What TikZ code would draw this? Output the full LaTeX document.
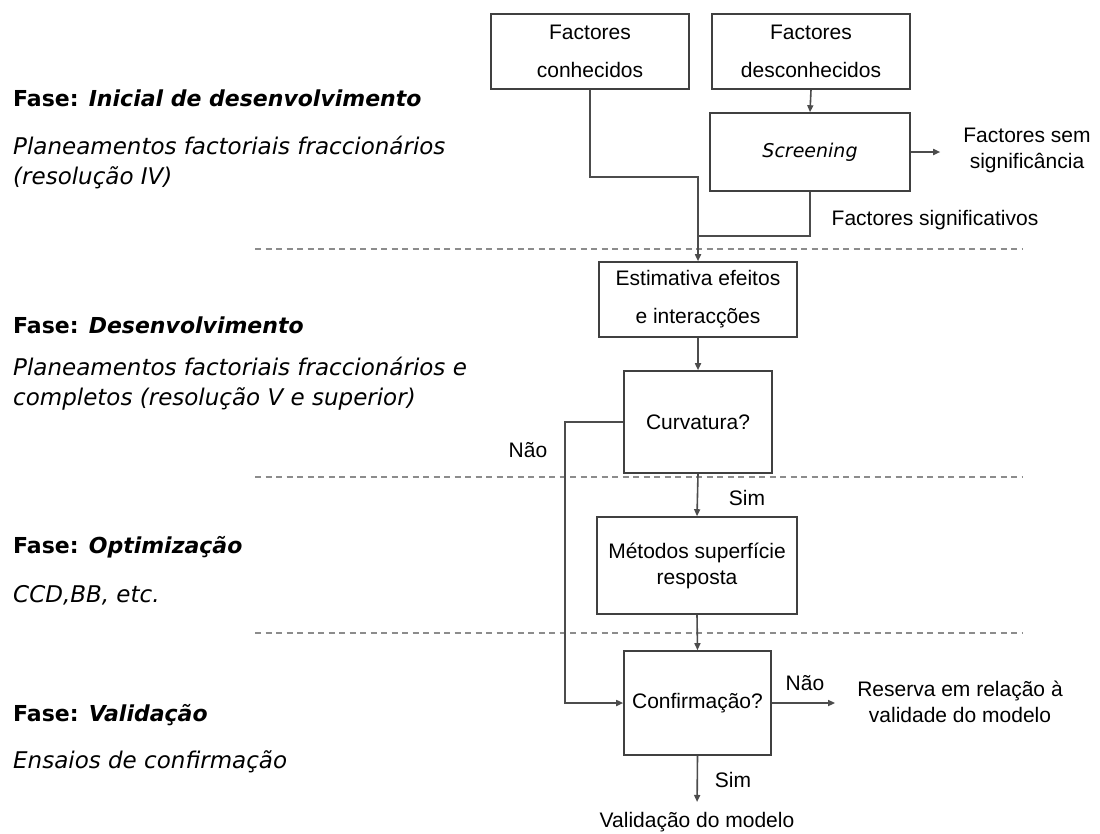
\documentclass[tikz,border=0pt]{standalone}
\usepackage{fontspec}
\setmainfont{Liberation Sans}
\newfontfamily\phasefont{DejaVu Sans}
\usetikzlibrary{arrows.meta}

\begin{document}
\begin{tikzpicture}[
  x=1pt, y=-1pt,
  font=\fontsize{21}{26}\selectfont,
  box/.style={draw=black!75, line width=1.6pt, align=center, inner sep=0pt},
  line/.style={draw=black!70, line width=1.6pt},
  arr/.style={line, -{Triangle[length=7pt, width=6pt]}},
  phase/.style={anchor=west, inner sep=0pt, font=\phasefont\fontsize{22}{26}\selectfont\bfseries},
  note/.style={anchor=west, inner sep=0pt, align=left,
    font=\phasefont\fontsize{23}{30}\selectfont\itshape},
  label/.style={inner sep=0pt, align=center},
  phaseline/.style={draw=black!45, line width=1.8pt, dash pattern=on 6pt off 4.5pt},
]
  \useasboundingbox[fill=white] (0,0) rectangle (1100,833);

  % Phase separators
  \foreach \y in {249,477,633}
    \draw[phaseline] (255,\y) -- (1023,\y);

  % Phases (left column)
  \node[phase] (ph1) at (13,98) {Fase: \textit{Inicial de desenvolvimento}};
  \node[note] (pl1) at (13,162.5) {Planeamentos factoriais fraccionários\\(resolução IV)};
  \node[phase] (ph2) at (13,325) {Fase: \textit{Desenvolvimento}};
  \node[note] (pl2) at (13,384) {Planeamentos factoriais fraccionários e\\completos (resolução V e superior)};
  \node[phase] (ph3) at (13,547) {Fase: \textit{Optimização}};
  \node[note] (pl3) at (13,595) {CCD,BB, etc.};
  \node[phase] (ph4) at (13,715) {Fase: \textit{Validação}};
  \node[note] (pl4) at (13,762) {Ensaios de confirmação};

  % Boxes
  \node[box, minimum width=198, minimum height=75] (conh) at (590,51.5) {Factores\\[12pt]conhecidos};
  \node[box, minimum width=198, minimum height=75] (desc) at (811,51.5) {Factores\\[12pt]desconhecidos};
  \node[box, minimum width=200, minimum height=78] (scr) at (810,152)
    {\phasefont\itshape\fontsize{19}{24}\selectfont Screening};
  \node[box, minimum width=198, minimum height=75] (est) at (698,299.5) {Estimativa efeitos\\[12pt]e interacções};
  \node[box, minimum width=148, minimum height=102] (curv) at (698,422) {Curvatura?};
  \node[box, minimum width=200, minimum height=97] (met) at (697,565.5) {Métodos superfície\\resposta};
  \node[box, minimum width=147, minimum height=104] (conf) at (697.5,703) {Confirmação?};

  % Outcomes and labels
  \node[label] (semsig) at (1027,150) {Factores sem\\significância};
  \node[label] (signif) at (935,220) {Factores significativos};
  \node[label] (naocurv) at (528,450) {Não};
  \node[label] (simcurv) at (747,498) {Sim};
  \node[label] (naoconf) at (805,683) {Não};
  \node[label] (reserva) at (960,702) {Reserva em relação à\\validade do modelo};
  \node[label] (simconf) at (733,780) {Sim};
  \node[label] (valid) at (697,822) {Validação do modelo};

  % Connections - screening stage
  \coordinate (join) at (698,236);
  \draw[line] (conh.south) -- ++(0,87) -| (join);
  \draw[line] (scr.south) |- (join);
  \draw[arr] (join) -- (est.north);
  \draw[arr] (desc.south) -- (scr.north);
  \draw[arr, shorten >=23pt] (scr.east) -- (scr.east -| semsig.west);

  % Connections - main chain
  \draw[arr] (est.south) -- (curv.north);
  \draw[arr] (curv.south) -- (met.north);
  \draw[arr] (met.south) -- (conf.north);

  % Curvatura no -> confirmation
  \draw[arr] (curv.west) -- ++(-58,0) |- (conf.west);

  % Confirmation outcomes
  \draw[arr, shorten >=22pt] (conf.east) -- (conf.east -| reserva.west);
  \draw[arr, shorten >=10pt] (conf.south) -- (valid.north);

\end{tikzpicture}
\end{document}
